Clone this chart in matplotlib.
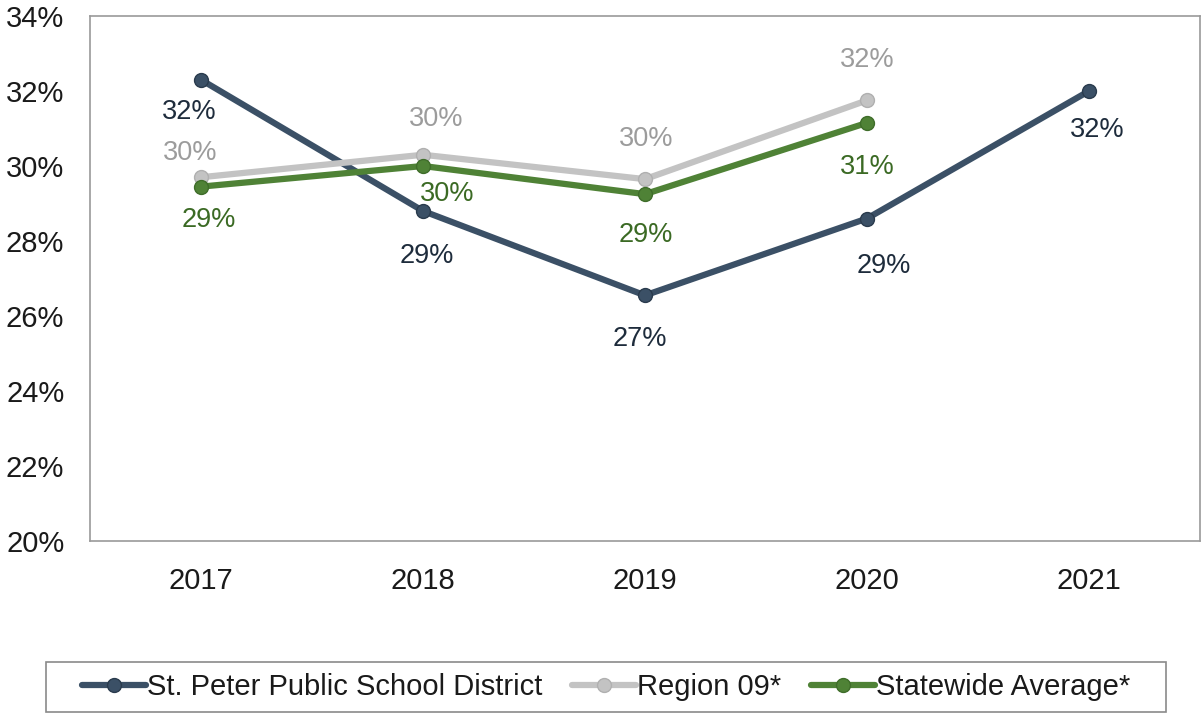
import matplotlib
matplotlib.use("Agg")
import matplotlib.pyplot as plt
from matplotlib.ticker import FuncFormatter
from matplotlib.patches import Rectangle

plt.rcParams['font.family'] = ['Liberation Sans', 'DejaVu Sans']

years = ["2017", "2018", "2019", "2020", "2021"]
st_peter = [32.3, 28.8, 26.55, 28.6, 32.0]
region_09 = [29.7, 30.3, 29.65, 31.75]
statewide = [29.45, 30.0, 29.25, 31.15]

series_names = ["St. Peter Public School District", "Region 09*", "Statewide Average*"]

fig = plt.figure(figsize=(12.01, 7.17), dpi=100)
ax = fig.add_axes([90 / 1201, 1 - 541 / 717, 1110 / 1201, 525 / 717])

x_all = list(range(len(years)))

styles = [
    dict(color="#3b5066", mec="#2a3b4d", label_color="#1e2c3c"),
    dict(color="#c3c3c3", mec="#b0b0b0", label_color="#9c9c9c"),
    dict(color="#4f8236", mec="#3f6d2a", label_color="#3b6a24"),
]
data = [st_peter, region_09, statewide]

# label offsets in pixels (dx, dy) relative to each point
offsets = [
    [(-12, -32), (4, -45), (-5, -44), (17, -48), (8, -39)],
    [(-11, 24), (13, 36), (1, 40), (0, 40)],
    [(8, -33), (24, -28), (1, -41), (0, -44)],
]

handles = []
for vals, st, offs, name in zip(data, styles, offsets, series_names):
    xs = x_all[:len(vals)]
    h, = ax.plot(xs, vals, color=st["color"], lw=4.5, marker="o", ms=10,
                 mfc=st["color"], mec=st["mec"], mew=1, label=name,
                 solid_capstyle="round", zorder=3)
    handles.append(h)
    for xi, v, (dx, dy) in zip(xs, vals, offs):
        ax.annotate(f"{round(v):d}%", (xi, v), xytext=(dx, dy),
                    textcoords="offset pixels", ha="center", va="center",
                    fontsize=19.5, color=st["label_color"], zorder=4)

ax.set_xlim(-0.5, len(years) - 0.5)
ax.set_ylim(20, 34)
ax.set_yticks(range(20, 35, 2))
ax.yaxis.set_major_formatter(FuncFormatter(lambda v, p: f"{int(v)}%"))
ax.set_xticks(x_all)
ax.set_xticklabels(years)
ax.tick_params(axis="both", length=0, labelsize=21, colors="#1a1a1a")
ax.tick_params(axis="y", pad=18.5)
ax.tick_params(axis="x", pad=19)
for s in ax.spines.values():
    s.set_color("#9a9a9a")
    s.set_linewidth(1.2)

leg = fig.legend(handles=handles, loc="center", ncol=3,
                 bbox_to_anchor=(606 / 1201, 1 - 687 / 717),
                 fontsize=21, frameon=False,
                 handlelength=2.2, handletextpad=0.05, columnspacing=1.0,
                 borderpad=0.3, labelcolor="#1a1a1a")

# wider box around the legend entries
fig.canvas.draw()
bb = leg.get_window_extent()
W, H = fig.bbox.width, fig.bbox.height
padx, pady = 27, 2
fig.patches.append(Rectangle(((bb.x0 - padx) / W, (bb.y0 - pady) / H),
                             (bb.width + 2 * padx) / W, (bb.height + 2 * pady) / H,
                             transform=fig.transFigure, fill=False,
                             edgecolor="#8a8a8a", linewidth=1.2))

fig.savefig("out.png", dpi=100, facecolor="white")
